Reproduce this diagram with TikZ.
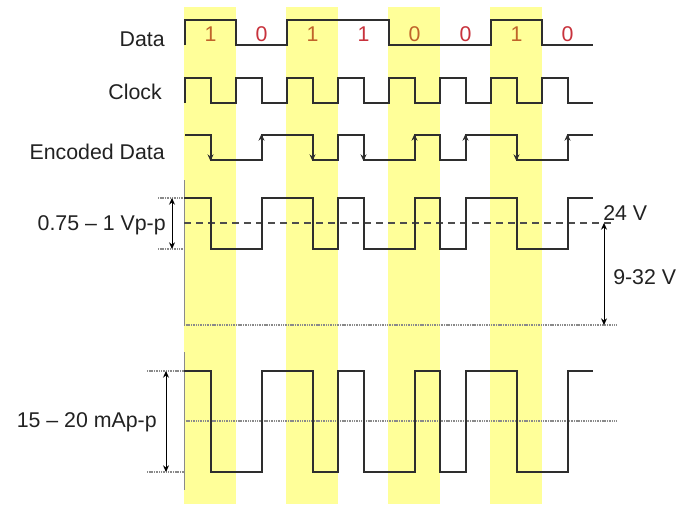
\documentclass[tikz,border=0pt]{standalone}
\usepackage{fontspec}
\setmainfont{Liberation Sans}
\usetikzlibrary{arrows.meta}
\definecolor{stripecol}{HTML}{FFFF99}
\definecolor{sigcol}{HTML}{2E2E2E}
\definecolor{txtcol}{HTML}{222222}
\definecolor{onecol}{HTML}{C0642A}
\definecolor{zerocol}{HTML}{C8323C}
\definecolor{guidecol}{HTML}{8A8A8A}
\newcommand\manwave[3]{%
  \draw[sig] (#1,#2) -- (210.5,#2) -- (210.5,#3) -- (261.5,#3) -- (261.5,#2)
    -- (312.5,#2) -- (312.5,#3) -- (338,#3) -- (338,#2) -- (363.5,#2)
    -- (363.5,#3) -- (414.5,#3) -- (414.5,#2) -- (440,#2) -- (440,#3)
    -- (465.5,#3) -- (465.5,#2) -- (516.5,#2) -- (516.5,#3) -- (567.5,#3)
    -- (567.5,#2) -- (593,#2);}
\begin{document}
\begin{tikzpicture}[x=0.75pt,y=-0.75pt,
  sig/.style={line width=1.5pt, draw=sigcol},
  lbl/.style={anchor=east, text=txtcol, inner sep=0pt, font=\fontsize{16pt}{18pt}\selectfont},
  rlbl/.style={anchor=west, text=txtcol, inner sep=0pt, font=\fontsize{16pt}{18pt}\selectfont},
  bitone/.style={text=onecol, inner sep=0pt, font=\fontsize{16pt}{18pt}\selectfont},
  bitzero/.style={text=zerocol, inner sep=0pt, font=\fontsize{16pt}{18pt}\selectfont},
  axisline/.style={draw=guidecol, line width=0.6pt},
  dotline/.style={draw=guidecol, line width=0.8pt, dash pattern=on 0.8pt off 0.5pt},
  dashline/.style={draw=sigcol!85, line width=1pt, dash pattern=on 5.5pt off 3.5pt},
  dimarrow/.style={draw=black, line width=0.7pt, {Stealth[length=5pt,width=4.5pt]}-{Stealth[length=5pt,width=4.5pt]}},
  tiparrow/.style={draw=sigcol, line width=1.2pt, -{Stealth[length=5pt,width=4.5pt]}}]
\useasboundingbox (0,0) rectangle (680,504);
\fill[white] (0,0) rectangle (680,504);
% yellow bit stripes
\foreach \i in {0,2,4,6} {
  \fill[stripecol] ({184+51*\i},7) rectangle ({236+51*\i},504);
}
% labels
\node[lbl] (ldata) at (165,39) {Data};
\node[lbl] (lclock) at (162,92) {Clock};
\node[lbl] (lenc) at (165,152) {Encoded Data};
\node[lbl] (lvpp) at (166,225) {0.75 – 1 Vp-p};
\node[lbl] (lmapp) at (157,422) {15 – 20 mAp-p};
\node[rlbl] (l24) at (603,213) {24 V};
\node[rlbl] (l932) at (613,277) {9-32 V};
% bit digits
\node[bitone]  (b0) at (210.5,34) {1};
\node[bitzero] (b1) at (261.5,34) {0};
\node[bitone]  (b2) at (312.5,34) {1};
\node[bitzero] (b3) at (363.5,34) {1};
\node[bitone]  (b4) at (414.5,34) {0};
\node[bitzero] (b5) at (465.5,34) {0};
\node[bitone]  (b6) at (516.5,34) {1};
\node[bitzero] (b7) at (567.5,34) {0};
% data signal
\draw[sig] (185,45) -- (185,20) -- (236,20) -- (236,45) -- (287,45) -- (287,20)
  -- (389,20) -- (389,45) -- (491,45) -- (491,20) -- (542,20) -- (542,45) -- (593,45);
% clock
\draw[sig] (185,103) foreach \i in {0,...,7} {
  -- ({185+51*\i},78) -- ({210.5+51*\i},78) -- ({210.5+51*\i},103) -- ({236+51*\i},103) };
% encoded data
\manwave{185}{135}{160}
\draw[tiparrow] (210.5,148) -- (210.5,161);
\draw[tiparrow] (261.5,147) -- (261.5,134);
\draw[tiparrow] (312.5,148) -- (312.5,161);
\draw[tiparrow] (363.5,148) -- (363.5,161);
\draw[tiparrow] (414.5,147) -- (414.5,134);
\draw[tiparrow] (465.5,147) -- (465.5,134);
\draw[tiparrow] (516.5,148) -- (516.5,161);
\draw[tiparrow] (567.5,147) -- (567.5,134);
% voltage section
\coordinate (vtop) at (184,180);
\coordinate (vbot) at (184,325);
\draw[axisline] (vtop) -- (vbot);
\draw[dotline] (158,198) -- (184,198);
\draw[dotline] (158,249) -- (184,249);
\draw[dotline] (vbot) -- (617,325);
\draw[dashline] (184,223) -- (615,223);
\manwave{184}{198}{249}
\coordinate (vh) at (172,198);
\coordinate (vl) at (172,249);
\draw[dimarrow] (vh) -- (vl);
\coordinate (s24) at (604,223);
\coordinate (s0) at (604,325);
\draw[dimarrow] (s24) -- (s0);
% current section
\coordinate (ctop) at (184,352);
\coordinate (cbot) at (184,490);
\draw[axisline] (ctop) -- (cbot);
\draw[dotline] (147,371) -- (184,371);
\draw[dotline] (147,472) -- (184,472);
\draw[dotline] (184,421) -- (617,421);
\manwave{184}{371}{472}
\coordinate (ch) at (166,371);
\coordinate (cl) at (166,472);
\draw[dimarrow] (ch) -- (cl);
\end{tikzpicture}
\end{document}
